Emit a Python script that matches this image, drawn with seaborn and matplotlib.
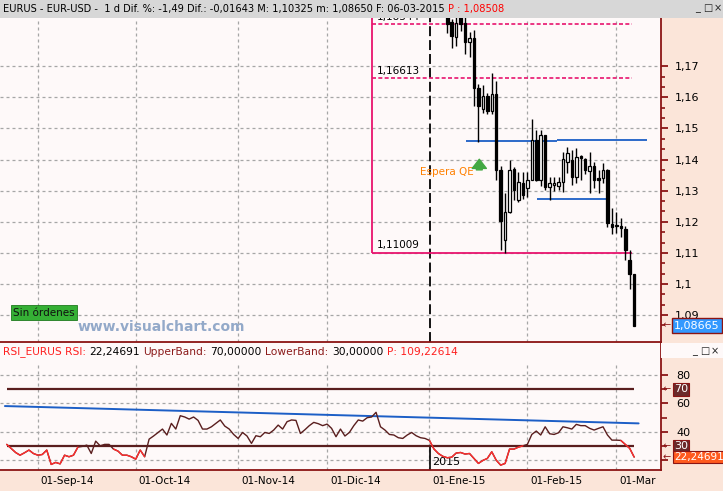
import numpy as np
import pandas as pd
import matplotlib
matplotlib.use("Agg")
import matplotlib.pyplot as plt
import matplotlib.transforms as mtrans
from matplotlib.patches import Rectangle
from matplotlib.ticker import FixedLocator, FuncFormatter, NullFormatter
import seaborn as sns

# ---------------- data ----------------
dates = pd.bdate_range("2014-08-21", "2015-03-06")

rsi = [
    31.2, 28.4, 25.5, 23.6, 25.3, 27.2, 24.8, 23.6, 24.1, 27.2,
    17.1, 18.5, 17.5, 23.6, 22.5, 23.6, 29.3, 29.8, 30.7, 24.8,
    33.5, 30.2, 31.2, 31.2, 27.9, 26.5, 23.6, 23.6, 22.5, 20.8,
    27.2, 22.5, 34.9, 37.1, 39.6, 42.0, 37.8, 46.0, 42.0, 51.4,
    50.5, 49.0, 50.5, 48.1, 42.0, 42.0, 43.6, 46.0, 48.4, 44.1,
    42.0, 38.2, 35.4, 39.6, 37.1, 31.9, 37.3, 36.6, 39.6, 38.9,
    41.3, 44.8, 42.0, 47.2, 48.4, 48.1, 38.9, 41.5, 44.4, 46.7,
    45.8, 44.4, 45.5, 42.5, 36.6, 42.0, 37.1, 39.6, 44.4, 48.4,
    47.6, 50.0, 50.5, 53.8, 43.6, 41.3, 38.2, 37.8, 35.9, 35.4,
    37.8, 39.6, 37.3, 35.9, 35.4, 34.0, 28.0, 24.8, 22.8,
    21.8, 22.2, 25.1, 25.5, 24.4, 24.8, 21.3, 17.8, 19.9, 21.3,
    26.0, 20.1, 16.6, 17.8, 27.9, 27.9, 29.3, 30.2, 31.2, 38.2,
    40.6, 37.8, 43.6, 38.7, 38.2, 39.4, 43.6, 42.9, 42.0, 45.3,
    44.4, 44.4, 42.5, 41.3, 42.5, 43.6, 37.8, 34.2, 34.2, 34.0,
    31.2, 28.4, 22.24691,
]

candle_start = "2015-01-07"
c_open = [1.1880, 1.1844, 1.1793, 1.1858, 1.1838, 1.1779, 1.1790, 1.1630, 1.1562, 1.1604,
          1.1557, 1.1611, 1.1368, 1.1142, 1.1233, 1.1369, 1.1271, 1.1326, 1.1308, 1.1335,
          1.1463, 1.1335, 1.1479, 1.1312, 1.1318, 1.1315, 1.1329, 1.1392, 1.1399, 1.1343,
          1.1410, 1.1401, 1.1362, 1.1380, 1.1340, 1.1340, 1.1365, 1.1193, 1.1190, 1.1185,
          1.1176, 1.1077, 1.10310]
c_high = [1.1895, 1.1852, 1.1862, 1.1866, 1.1868, 1.1810, 1.1816, 1.1642, 1.1641, 1.1615,
          1.1678, 1.1652, 1.1379, 1.1292, 1.1399, 1.1377, 1.1361, 1.1361, 1.1361, 1.1530,
          1.1495, 1.1495, 1.1479, 1.1345, 1.1345, 1.1345, 1.1426, 1.1440, 1.1431, 1.1437,
          1.1416, 1.1404, 1.1426, 1.1393, 1.1367, 1.1390, 1.1369, 1.1243, 1.1233, 1.1211,
          1.1186, 1.1109, 1.10325]
c_low = [1.1808, 1.1759, 1.1764, 1.1815, 1.1740, 1.1731, 1.1571, 1.1458, 1.1550, 1.1546,
         1.1546, 1.1335, 1.1110, 1.1099, 1.1227, 1.1271, 1.1265, 1.1273, 1.1279, 1.1335,
         1.1330, 1.1314, 1.1303, 1.1271, 1.1298, 1.1303, 1.1297, 1.1356, 1.1318, 1.1324,
         1.1335, 1.1354, 1.1291, 1.1308, 1.1291, 1.1324, 1.1184, 1.1160, 1.1163, 1.1152,
         1.1077, 1.0983, 1.08650]
c_close = [1.1835, 1.1796, 1.1839, 1.1836, 1.1779, 1.1790, 1.1630, 1.1571, 1.1604, 1.1557,
           1.1611, 1.1368, 1.1202, 1.1233, 1.1367, 1.1303, 1.1329, 1.1287, 1.1333, 1.1463,
           1.1335, 1.1479, 1.1312, 1.1324, 1.1326, 1.1329, 1.1401, 1.1420, 1.1345, 1.1408,
           1.1404, 1.1365, 1.1380, 1.1335, 1.1333, 1.1365, 1.1195, 1.1182, 1.1185, 1.1180,
           1.1109, 1.1031, 1.08665]

month_labels = ["01-Sep-14", "01-Oct-14", "01-Nov-14", "01-Dic-14",
                "01-Ene-15", "01-Feb-15", "01-Mar"]
price_ticks = [1.09, 1.10, 1.11, 1.12, 1.13, 1.14, 1.15, 1.16, 1.17]
rsi_ticks = [20, 40, 60, 80]

level_top, level_mid, level_low = 1.18344, 1.16613, 1.11009
blue_hi_a, blue_hi_b, blue_lo = 1.1459, 1.1462, 1.1272
upper_band, lower_band = 70.0, 30.0
rsi_trend = [58.2, 46.0]
last_close = 1.08665
rsi_last = 22.24691

title_main = "EURUS - EUR-USD -  1 d Dif. %: -1,49 Dif.: -0,01643 M: 1,10325 m: 1,08650 F: 06-03-2015"
title_main_p = "P : 1,08508"

# ---------------- style ----------------
W, H = 723, 491
BG_AX = '#FEF9F9'
BG_FIG = '#FBE5D9'
DARKRED = '#8B1414'
GRID = '#A6A6A6'
PINK = '#E8146E'
BLUE = '#1C5EC6'
BROWN = '#5A1E1E'
RED = '#FF2D2D'
RED_SPANS = [(0, 16), (24, 31), (95, 116), (138, 141)]

sns.set_theme(style='white')
plt.rcParams['font.family'] = ['DejaVu Sans']
plt.rcParams['axes.unicode_minus'] = False

fig = plt.figure(figsize=(W / 100, H / 100), dpi=100, facecolor=BG_FIG)
PT = 72 / 100.0  # points per pixel


def frect(x0, y0, x1, y1, **kw):
    r = Rectangle((x0 / W, 1 - y1 / H), (x1 - x0) / W, (y1 - y0) / H,
                  transform=fig.transFigure, **kw)
    fig.add_artist(r)
    return r


ax = fig.add_axes([0, 1 - 342 / H, 661 / W, (342 - 18) / H])
ax2 = fig.add_axes([0, 1 - 470 / H, 661 / W, (470 - 343) / H])
for a in (ax, ax2):
    a.set_facecolor(BG_AX)
    a.set_xlim(-1.506, 147.03)
    for s in ('left', 'top'):
        a.spines[s].set_visible(False)
    for s in ('right', 'bottom'):
        a.spines[s].set_color(DARKRED)
        a.spines[s].set_linewidth(1.3)

ax.set_ylim(1.08135, 1.18553)
ax2.set_ylim(13.17, 102.6)

idx = np.arange(len(dates))
month_idx = [i for i in range(1, len(dates)) if dates[i].month != dates[i - 1].month]
year_idx = int(np.argmax(dates.year == 2015))

# ---------------- main panel ----------------
ax.yaxis.tick_right()
ax.yaxis.set_major_locator(FixedLocator(price_ticks))
minor = [price_ticks[0] + k * 0.01 / 3 for k in range(-1, 24) if k % 3 != 0]
ax.yaxis.set_minor_locator(FixedLocator(minor))
ax.yaxis.set_major_formatter(FuncFormatter(lambda v, p: f"{v:.2f}".replace('.', ',').rstrip('0').rstrip(',')))
ax.yaxis.set_minor_formatter(NullFormatter())
ax.tick_params(axis='y', which='major', direction='out', length=5, width=1.3,
               color=DARKRED, labelsize=8, pad=5, labelcolor='black')
ax.tick_params(axis='y', which='minor', direction='out', length=3, width=1.2, color=DARKRED)
ax.set_xticks([])
ax.grid(True, axis='y', which='major', color=GRID, lw=0.9, ls=(0, (2.4, 2.4)))
for m in month_idx:
    if m != year_idx:
        ax.axvline(m, color=GRID, lw=0.9, ls=(0, (2.4, 2.4)), zorder=1)
ax.axvline(year_idx + 0.1, color='black', lw=1.3, ls=(0, (5.5, 2.2)), zorder=2)

# pink box / levels
bx0, bx1 = 82.09, 140.45
ax.vlines(bx0, level_low, 1.2, color=PINK, lw=1.3, zorder=2)
ax.hlines(level_low, bx0, bx1, color=PINK, lw=1.3, zorder=2)
ax.hlines([level_top, level_mid], bx0, bx1, color=PINK, lw=1.2, ls=(0, (2.4, 1.4)), zorder=2)
for lv in (level_top, level_mid, level_low):
    ax.annotate(f"{lv:.5f}".replace('.', ','), xy=(bx0, lv), xytext=(5 * PT, 2.5 * PT),
                textcoords='offset points', ha='left', va='bottom', fontsize=7.5,
                color='black', annotation_clip=False)

# blue support/resistance
ax.hlines(blue_hi_a, 103.2, 123.6, color=BLUE, lw=1.3, zorder=2)
ax.hlines(blue_hi_b, 123.6, 143.9, color=BLUE, lw=1.3, zorder=2)
ax.hlines(blue_lo, 119.1, 135.0, color=BLUE, lw=1.3, zorder=2)

# candles
start = dates.get_loc(pd.Timestamp(candle_start))
xc = np.arange(start, start + len(c_open))
o = np.array(c_open); c = np.array(c_close)
hi = np.array(c_high); lo = np.array(c_low)
ax.vlines(xc, lo, hi, color='black', lw=1.0, zorder=3)
body_lo = np.minimum(o, c)
body_h = np.maximum(np.abs(c - o), 0.00025)
cols = np.where(c >= o, 'white', 'black')
ax.bar(xc, body_h, bottom=body_lo, width=0.56, color=cols, edgecolor='black',
       linewidth=0.9, zorder=4)

# arrow + label
ax.annotate('', xy=(106.2, 1.1410), xytext=(106.2, 1.1358),
            arrowprops=dict(arrowstyle='simple,head_width=0.85,head_length=0.55,tail_width=0.35',
                            color='#43A843', mutation_scale=12), zorder=5)
ax.text(105.0, 1.1360, "Espera QE", color='#FF8000', fontsize=7.5, ha='right', va='center')

# watermark / status
ax.text(78 / 661, 1 - (327 - 18) / 324, "www.visualchart.com", transform=ax.transAxes,
        fontsize=10, fontweight='bold', color='#93A9C9', ha='left', va='center')
ax.text(44 / 661, 1 - (312.5 - 18) / 324, "Sin órdenes", transform=ax.transAxes,
        fontsize=7.5, color='#101010', ha='center', va='center',
        bbox=dict(boxstyle='square,pad=0.25', fc='#35B035', ec='#1E7A1E', lw=0.6))

# last price marker
ax.annotate("1,08665", xy=(1, last_close), xycoords=('axes fraction', 'data'),
            xytext=(13 * PT, 0), textcoords='offset points', ha='left', va='center',
            fontsize=8, color='white',
            bbox=dict(boxstyle='square,pad=0.2', fc='#3399FF', ec=DARKRED, lw=1.0),
            annotation_clip=False)
ax.annotate("←", xy=(1, last_close), xycoords=('axes fraction', 'data'),
            xytext=(2 * PT, 0), textcoords='offset points', ha='left', va='center',
            fontsize=7, color=DARKRED, annotation_clip=False)

# ---------------- RSI panel ----------------
df = pd.DataFrame({'bar': idx, 'rsi': rsi})
sns.lineplot(data=df, x='bar', y='rsi', ax=ax2, color=BROWN, linewidth=1.0, zorder=4)
for a, b in RED_SPANS:
    seg = df.iloc[a:b + 1]
    ax2.plot(seg['bar'], seg['rsi'], color=RED, lw=1.0, zorder=5)
ax2.hlines([upper_band, lower_band], 0, len(dates) - 1, color=BROWN, lw=1.6, zorder=3)
ax2.plot([-0.4, len(dates)], rsi_trend, color=BLUE, lw=1.4, zorder=3)
ax2.set_xlabel('')
ax2.set_ylabel('')

ax2.yaxis.tick_right()
ax2.yaxis.set_major_locator(FixedLocator(rsi_ticks))
ax2.yaxis.set_minor_locator(FixedLocator([30, 50, 70]))
ax2.yaxis.set_major_formatter(FuncFormatter(lambda v, p: f"{v:.0f}"))
ax2.tick_params(axis='y', which='major', direction='out', length=5, width=1.3,
                color=DARKRED, labelsize=8, pad=6, labelcolor='black')
ax2.tick_params(axis='y', which='minor', direction='out', length=4, width=1.2, color=DARKRED)
ax2.grid(True, axis='y', which='major', color=GRID, lw=0.9, ls=(0, (2.4, 2.4)))
for m in month_idx:
    ax2.axvline(m, 0, 0.83, color=GRID, lw=0.9, ls=(0, (2.4, 2.4)), zorder=1)
ax2.axvline(year_idx + 0.1, 0, 0.18, color='black', lw=1.2, zorder=2)
ax2.text(year_idx + 0.5, 18.6, "2015", fontsize=8, color='black', ha='left', va='center')

ax2.set_xticks(month_idx)
ax2.set_xticklabels(month_labels)
ax2.tick_params(axis='x', direction='out', length=7, width=1.3, color=DARKRED,
                labelsize=7.5, pad=-3, labelcolor='black')
shift = mtrans.ScaledTranslation(3 / 100, 0, fig.dpi_scale_trans)
for lbl in ax2.get_xticklabels():
    lbl.set_horizontalalignment('left')
    lbl.set_transform(lbl.get_transform() + shift)

for val, txt, fc, tc in [(upper_band, "70", '#6B2A2A', 'white'),
                         (lower_band, "30", '#6B2A2A', 'white'),
                         (rsi_last, "22,24691", '#FF5A1E', 'white')]:
    ax2.annotate(txt, xy=(1, val), xycoords=('axes fraction', 'data'),
                 xytext=(13 * PT, 0), textcoords='offset points', ha='left', va='center',
                 fontsize=7.5 if len(txt) > 2 else 8, color=tc,
                 bbox=dict(boxstyle='square,pad=0.12', fc=fc, ec=DARKRED, lw=0.8),
                 annotation_clip=False)
    ax2.annotate("←", xy=(1, val), xycoords=('axes fraction', 'data'),
                 xytext=(2 * PT, 0), textcoords='offset points', ha='left', va='center',
                 fontsize=7, color=DARKRED, annotation_clip=False)

# ---------------- header bars ----------------
frect(0, 0, W, 18, fc='#D7D7D7', ec='none', zorder=5)
frect(661, 343, W, 358, fc=BG_AX, ec='none', zorder=5)

fig.canvas.draw()
renderer = fig.canvas.get_renderer()


def ctext(x_px, y_px, parts, size):
    x = x_px
    gap = size * 0.318 / PT
    for s, col in parts:
        t = fig.text(x / W, 1 - y_px / H, s, color=col, fontsize=size,
                     ha='left', va='center', zorder=6)
        x += t.get_window_extent(renderer).width + gap


ctext(3, 9, [(title_main, 'black'), (title_main_p, '#FF0000')], 7.15)
ctext(3, 352, [("RSI_EURUS RSI:", '#FF2020'), ("22,24691", 'black'),
               ("UpperBand:", '#8B1A1A'), ("70,00000", 'black'),
               ("LowerBand:", '#8B1A1A'), ("30,00000", 'black'),
               ("P: 109,22614", '#FF2020')], 7.7)


def buttons(x0, yc):
    for k, g in enumerate(['_', '□', '×']):
        fig.text((x0 + 10 * k + 4.5) / W, 1 - yc / H, g, fontsize=7, color='#202020',
                 ha='center', va='center', zorder=7)


buttons(693, 8)
buttons(690, 351)

fig.savefig("out.png", dpi=100, facecolor=fig.get_facecolor())
